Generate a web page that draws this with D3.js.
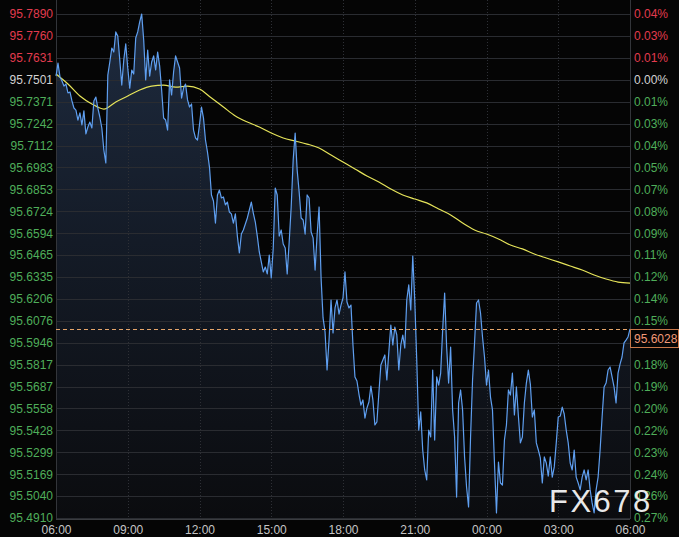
<!DOCTYPE html>
<html><head><meta charset="utf-8">
<script src="https://cdn.jsdelivr.net/npm/d3@7"></script>
<style>html,body{margin:0;padding:0;background:#050505;overflow:hidden}</style>
</head><body><svg id="c" width="679" height="537"></svg>
<script>
const leftTickLabels = ["95.7890","95.7760","95.7631","95.7501","95.7371","95.7242","95.7112","95.6983","95.6853","95.6724","95.6594","95.6465","95.6335","95.6206","95.6076","95.5946","95.5817","95.5687","95.5558","95.5428","95.5299","95.5169","95.5040","95.4910"];
const rightTickLabels = ["0.04%","0.03%","0.01%","0.00%","0.01%","0.03%","0.04%","0.05%","0.07%","0.08%","0.09%","0.11%","0.12%","0.14%","0.15%","0.16%","0.18%","0.19%","0.20%","0.22%","0.23%","0.24%","0.26%","0.27%"];
const timeTickLabels = ["06:00","09:00","12:00","15:00","18:00","21:00","00:00","03:00","06:00"];
const refPrice = 95.7501;
const lastPrice = 95.6028;
const priceStepMinutes = 5;
const prices = [
95.7523,95.7600,95.7518,95.7494,95.7464,95.7476,95.7423,95.7429,95.7376,95.7334,
95.7322,95.7263,95.7305,95.7234,95.7317,95.7181,95.7222,95.7251,95.7216,95.7376,
95.7399,95.7334,95.7281,95.7216,95.7086,95.7009,95.7529,95.7606,95.7689,95.7665,
95.7784,95.7760,95.7618,95.7470,95.7618,95.7713,95.7571,95.7452,95.7559,95.7535,
95.7748,95.7784,95.7843,95.7890,95.7736,95.7500,95.7677,95.7523,95.7606,95.7642,
95.7559,95.7665,95.7583,95.7441,95.7275,95.7263,95.7204,95.7500,95.7411,95.7547,
95.7642,95.7606,95.7571,95.7393,95.7452,95.7476,95.7382,95.7340,95.7358,95.7204,
95.7157,95.7145,95.7234,
95.7340,95.7275,95.7145,95.7074,95.6985,95.6820,95.6784,95.6654,95.6820,95.6849,
95.6802,95.6808,95.6761,95.6778,95.6719,95.6708,95.6654,95.6708,95.6577,95.6477,
95.6589,95.6613,95.6648,95.6684,95.6731,95.6778,95.6713,95.6660,95.6577,95.6483,
95.6424,95.6365,95.6394,95.6353,95.6465,95.6329,95.6506,95.6861,95.6820,95.6577,
95.6613,95.6530,95.6506,95.6353,95.6542,95.6749,95.7027,95.7186,95.6968,95.6838,
95.6684,95.6672,95.6589,95.6820,95.6802,95.6601,95.6566,95.6376,95.6583,95.6749,
95.6329,95.6093,95.6010,95.5785,95.5962,95.6199,95.6004,95.6152,95.6199,95.6116,
95.6169,95.6211,95.6365,95.6187,95.6152,95.6169,95.5933,95.5744,95.5720,95.5643,
95.5578,95.5608,95.5501,95.5560,95.5596,95.5690,95.5608,95.5460,95.5478,95.5649,
95.5815,95.5844,95.5874,95.5726,95.5892,95.6051,95.5933,95.6039,95.5992,95.5785,
95.5933,95.5992,95.5915,95.6199,95.6288,95.6140,95.6459,95.6199,95.5844,95.5430,
95.5537,95.5312,95.5194,95.5135,95.5430,95.5389,95.5785,95.5371,95.5744,95.5696,
95.5767,95.6022,95.6240,95.5921,95.5708,95.5921,95.5549,95.5389,95.5034,95.5590,
95.5667,95.5549,95.5271,95.5093,95.4975,95.5389,95.5726,95.5945,95.6181,95.6199,
95.6122,95.5980,95.5862,
95.5696,95.5785,95.5625,95.5549,95.5235,95.4940,95.5241,95.5117,95.5105,95.5371,
95.5460,95.5667,95.5637,95.5767,95.5519,95.5685,95.5513,95.5354,95.5389,95.5590,
95.5708,95.5785,95.5702,95.5507,95.5549,95.5354,95.5312,95.5265,95.5117,95.5271,
95.5235,95.5158,95.5271,95.5152,95.5212,95.5354,95.5507,95.5513,95.5566,95.5525,
95.5430,95.5354,95.5235,95.5194,95.5312,95.5152,95.5117,95.5076,95.5152,95.5194,
95.5135,95.5194,95.5076,95.4999,95.4940,95.5076,95.5152,95.5312,95.5507,95.5685,
95.5708,95.5785,95.5803,95.5744,95.5685,95.5590,95.5767,95.5820,95.5862,95.5945,
95.5962,95.5980,95.6028
];
const maStepMinutes = 30;
const maValues = [
95.7535,95.7476,95.7405,95.7358,95.7328,95.7370,95.7405,95.7441,95.7464,95.7470,
95.7458,95.7464,95.7447,95.7393,95.7340,95.7287,95.7251,95.7222,95.7186,95.7157,
95.7139,95.7121,95.7098,95.7056,95.7015,95.6974,95.6932,95.6897,95.6855,95.6820,
95.6796,95.6773,95.6737,95.6702,95.6654,95.6613,95.6589,95.6560,95.6524,95.6501,
95.6471,95.6447,95.6424,95.6400,95.6376,95.6347,95.6323,95.6305,95.6299
];

const W = 679, H = 537;
const L = 56, R = 630, T = 14, B = 518;
const svg = d3.select("#c");
const start = new Date(2024, 0, 1, 6, 0);
const end = d3.timeHour.offset(start, 24);
const x = d3.scaleTime().domain([start, end]).range([L, R]);
const y = d3.scaleLinear().domain([+leftTickLabels[leftTickLabels.length-1], +leftTickLabels[0]]).range([B, T]);
const tickVals = leftTickLabels.map(Number);
const timeTicks = timeTickLabels.map((d, i) => d3.timeHour.offset(start, i * 3));

const red = "#e23b4e", green = "#4fae5a", neutral = "#d2d2d2";
const colorFor = v => Math.abs(v - refPrice) < 1e-6 ? neutral : (v > refPrice ? red : green);

svg.append("rect").attr("width", W).attr("height", H).attr("fill", "#050505");

const defs = svg.append("defs");
const grad = defs.append("linearGradient").attr("id", "g").attr("gradientUnits", "userSpaceOnUse")
  .attr("x1", 0).attr("y1", T).attr("x2", 0).attr("y2", B);
grad.append("stop").attr("offset", "0%").attr("stop-color", "#1e2b3f");
grad.append("stop").attr("offset", "45%").attr("stop-color", "#141b27");
grad.append("stop").attr("offset", "100%").attr("stop-color", "#0b0c0f");
defs.append("clipPath").attr("id", "clip").append("rect").attr("x", L).attr("y", 0).attr("width", R - L).attr("height", B + 1);

const pts = prices.map((p, i) => ({t: d3.timeMinute.offset(start, i * priceStepMinutes), v: p}));
const maPts = maValues.map((p, i) => ({t: d3.timeMinute.offset(start, i * maStepMinutes), v: p}));

// area
svg.append("path").datum(pts).attr("clip-path", "url(#clip)")
  .attr("fill", "url(#g)")
  .attr("d", d3.area().x(d => x(d.t)).y0(B + 1).y1(d => y(d.v)));

// horizontal grid
svg.append("g").selectAll("line").data(tickVals).join("line")
  .attr("x1", L).attr("x2", R).attr("y1", d => Math.round(y(d)) + 0.5).attr("y2", d => Math.round(y(d)) + 0.5)
  .attr("stroke", "#2a2c31").attr("stroke-width", 1);
// vertical grid
svg.append("g").selectAll("line").data(timeTicks.slice(1, -1)).join("line")
  .attr("x1", d => Math.round(x(d)) + 0.5).attr("x2", d => Math.round(x(d)) + 0.5).attr("y1", 0).attr("y2", B)
  .attr("stroke", "#2e3036").attr("stroke-dasharray", "1,2");

// frame lines
svg.append("line").attr("x1", L + 0.5).attr("x2", L + 0.5).attr("y1", 0).attr("y2", B + 1).attr("stroke", "#33353a");
svg.append("line").attr("x1", R + 0.5).attr("x2", R + 0.5).attr("y1", 0).attr("y2", B + 1).attr("stroke", "#33353a");
svg.append("line").attr("x1", L).attr("x2", R).attr("y1", B + 1.5).attr("y2", B + 1.5).attr("stroke", "#3a3c40");

// lines
svg.append("path").datum(maPts).attr("fill", "none").attr("stroke", "#e6e45a").attr("stroke-width", 1.2)
  .attr("d", d3.line().x(d => x(d.t)).y(d => y(d.v)).curve(d3.curveMonotoneX));
svg.append("path").datum(pts).attr("fill", "none").attr("stroke", "#5f9ff0").attr("stroke-width", 1.2)
  .attr("stroke-linejoin", "round")
  .attr("d", d3.line().x(d => x(d.t)).y(d => y(d.v)));

// axes
const font = "'Liberation Sans', Arial, sans-serif";
const la = svg.append("g").attr("transform", `translate(${L},0)`)
  .call(d3.axisLeft(y).tickValues(tickVals).tickSize(0).tickPadding(3).tickFormat((d, i) => leftTickLabels[i]));
la.select(".domain").remove();
la.selectAll("text").attr("font-family", font).attr("font-size", 12).attr("fill", d => colorFor(d));

const ra = svg.append("g").attr("transform", `translate(${R},0)`)
  .call(d3.axisRight(y).tickValues(tickVals).tickSize(0).tickPadding(4).tickFormat((d, i) => rightTickLabels[i]));
ra.select(".domain").remove();
ra.selectAll("text").attr("font-family", font).attr("font-size", 12).attr("fill", d => colorFor(d));

const ba = svg.append("g").attr("transform", `translate(0,${B})`)
  .call(d3.axisBottom(x).tickValues(timeTicks).tickSize(0).tickPadding(7).tickFormat((d, i) => timeTickLabels[i]));
ba.select(".domain").remove();
ba.selectAll("text").attr("font-family", font).attr("font-size", 12).attr("fill", "#c4c4c4");

// last price dashed line + label
const ly = Math.round(y(lastPrice)) + 0.5;
svg.append("line").attr("x1", L).attr("x2", R).attr("y1", ly).attr("y2", ly)
  .attr("stroke", "#e6a56a").attr("stroke-dasharray", "4,3").attr("stroke-width", 1);
svg.append("rect").attr("x", R + 0.5).attr("y", ly).attr("width", 48).attr("height", 18)
  .attr("fill", "#050505").attr("stroke", "#c9784a").attr("stroke-width", 1);
svg.append("text").attr("x", R + 4).attr("y", ly + 13.5).attr("font-family", font).attr("font-size", 12)
  .attr("fill", "#f29a78").text(lastPrice.toFixed(4));

// watermark
svg.append("text").attr("x", 549).attr("y", 512).attr("font-family", font).attr("font-size", 31)
  .attr("letter-spacing", 2.5).attr("fill", "#ffffff").attr("fill-opacity", 0.92).text("FX678");
</script></body></html>
